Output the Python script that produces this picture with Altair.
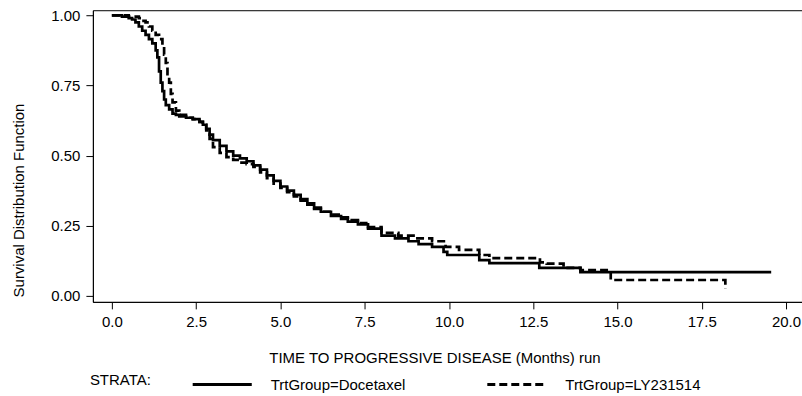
import altair as alt
import pandas as pd

# Kaplan-Meier step points
doc_t = [0.0, 0.3, 0.5, 0.6, 0.7, 0.8, 0.9, 1.0, 1.1, 1.2, 1.3, 1.35, 1.4, 1.45, 1.5,
         1.55, 1.6, 1.7, 1.8, 1.9, 2.0, 2.2, 2.4, 2.6, 2.7, 2.8, 2.9, 3.0, 3.2, 3.4,
         3.6, 3.8, 4.0, 4.2, 4.4, 4.6, 4.8, 5.0, 5.2, 5.4, 5.6, 5.8, 6.0, 6.2, 6.5,
         6.8, 7.0, 7.3, 7.6, 8.0, 8.4, 8.8, 9.1, 9.5, 9.84, 9.95, 10.9, 11.2, 12.68,
         13.9, 19.56]
doc_s = [1.0, 0.995, 0.99, 0.985, 0.975, 0.96, 0.945, 0.93, 0.915, 0.9, 0.875, 0.85, 0.80, 0.76, 0.73,
         0.70, 0.68, 0.665, 0.65, 0.645, 0.64, 0.635, 0.63, 0.62, 0.61, 0.595, 0.575, 0.555, 0.535, 0.515,
         0.50, 0.49, 0.48, 0.465, 0.45, 0.43, 0.41, 0.39, 0.375, 0.36, 0.345, 0.33, 0.315, 0.30, 0.285,
         0.275, 0.265, 0.255, 0.24, 0.215, 0.205, 0.195, 0.185, 0.175, 0.157, 0.146, 0.128, 0.117, 0.10,
         0.085, 0.085]

ly_t = [0.0, 0.5, 0.8, 0.9, 1.0, 1.1, 1.2, 1.3, 1.4, 1.5, 1.55, 1.6, 1.65, 1.7, 1.75,
        1.8, 1.9, 2.0, 2.2, 2.4, 2.6, 2.7, 2.8, 2.9, 3.0, 3.2, 3.4, 3.6, 3.8, 4.0,
        4.2, 4.4, 4.6, 4.8, 5.0, 5.2, 5.4, 5.6, 5.8, 6.0, 6.2, 6.5, 6.8, 7.0, 7.3,
        7.6, 8.0, 8.5, 9.0, 9.5, 9.9, 10.3, 10.9, 11.2, 12.7, 12.9, 13.4, 13.9, 14.8,
        18.2]
ly_s = [1.0, 0.995, 0.99, 0.98, 0.975, 0.96, 0.945, 0.93, 0.915, 0.89, 0.86, 0.83, 0.79, 0.76, 0.72,
        0.69, 0.66, 0.645, 0.635, 0.63, 0.62, 0.61, 0.59, 0.56, 0.53, 0.51, 0.495, 0.485, 0.475, 0.47,
        0.46, 0.44, 0.42, 0.40, 0.385, 0.37, 0.355, 0.34, 0.325, 0.31, 0.30, 0.29, 0.28, 0.27, 0.26,
        0.245, 0.225, 0.215, 0.205, 0.195, 0.175, 0.164, 0.146, 0.135, 0.12, 0.115, 0.10, 0.092, 0.057,
        0.025]

groups = ["TrtGroup=Docetaxel", "TrtGroup=LY231514"]
legend_title = ["STRATA:"]
x_ticks = [0.0, 2.5, 5.0, 7.5, 10.0, 12.5, 15.0, 17.5, 20.0]
y_ticks = [0.0, 0.25, 0.5, 0.75, 1.0]

df = pd.concat([
    pd.DataFrame({"t": doc_t, "s": doc_s, "g": groups[0], "o": range(len(doc_t))}),
    pd.DataFrame({"t": ly_t, "s": ly_s, "g": groups[1], "o": range(len(ly_t))}),
])

FONT = "Liberation Sans"

lines = alt.Chart(df).mark_line(
    interpolate="step-after", strokeWidth=2.7, color="black"
).encode(
    x=alt.X("t:Q", scale=alt.Scale(domain=[-0.563, 20.474], nice=False, zero=False),
            axis=alt.Axis(values=x_ticks, format=".1f", title="TIME TO PROGRESSIVE DISEASE (Months) run",
                          titleX=342, titleY=49, titleAlign="center", titleBaseline="top")),
    y=alt.Y("s:Q", scale=alt.Scale(domain=[-0.021, 1.018], nice=False, zero=False),
            axis=alt.Axis(values=y_ticks, format=".2f", title="Survival Distribution Function",
                          titleX=-66, titleY=190)),
    order="o:Q",
    strokeDash=alt.StrokeDash("g:N", scale=alt.Scale(domain=groups, range=[[1, 0], [8, 4]]),
                              legend=alt.Legend(
                                  orient="none", legendX=98, legendY=343, direction="horizontal",
                                  title=None,
                                  symbolType="stroke", symbolStrokeWidth=3, symbolSize=3500,
                                  symbolStrokeColor="black",
                                  columnPadding=75, labelOffset=17,
                                  labelFontSize=15, labelFont=FONT, labelColor="black",
                              )),
)

strata = alt.Chart(pd.DataFrame({"label": legend_title})).mark_text(
    align="left", baseline="middle", font=FONT, fontSize=15, color="black"
).encode(
    text="label:N", x=alt.value(-3), y=alt.value(370)
)

chart = alt.layer(lines, strata).properties(
    width=710, height=292,
    background="white",
    autosize=alt.AutoSizeParams(type="none"),
    padding={"left": 93, "top": 10, "right": 0, "bottom": 94},
).configure_view(
    stroke="black", strokeWidth=1
).configure_axis(
    grid=False, domainColor="black", tickColor="black", tickSize=7, labelPadding=6,
    labelFont=FONT, titleFont=FONT, labelFontSize=15, titleFontSize=15,
    titleFontWeight="normal", labelColor="black", titleColor="black",
)

chart.save("out.html", embed_options={"renderer": "svg", "actions": False})
